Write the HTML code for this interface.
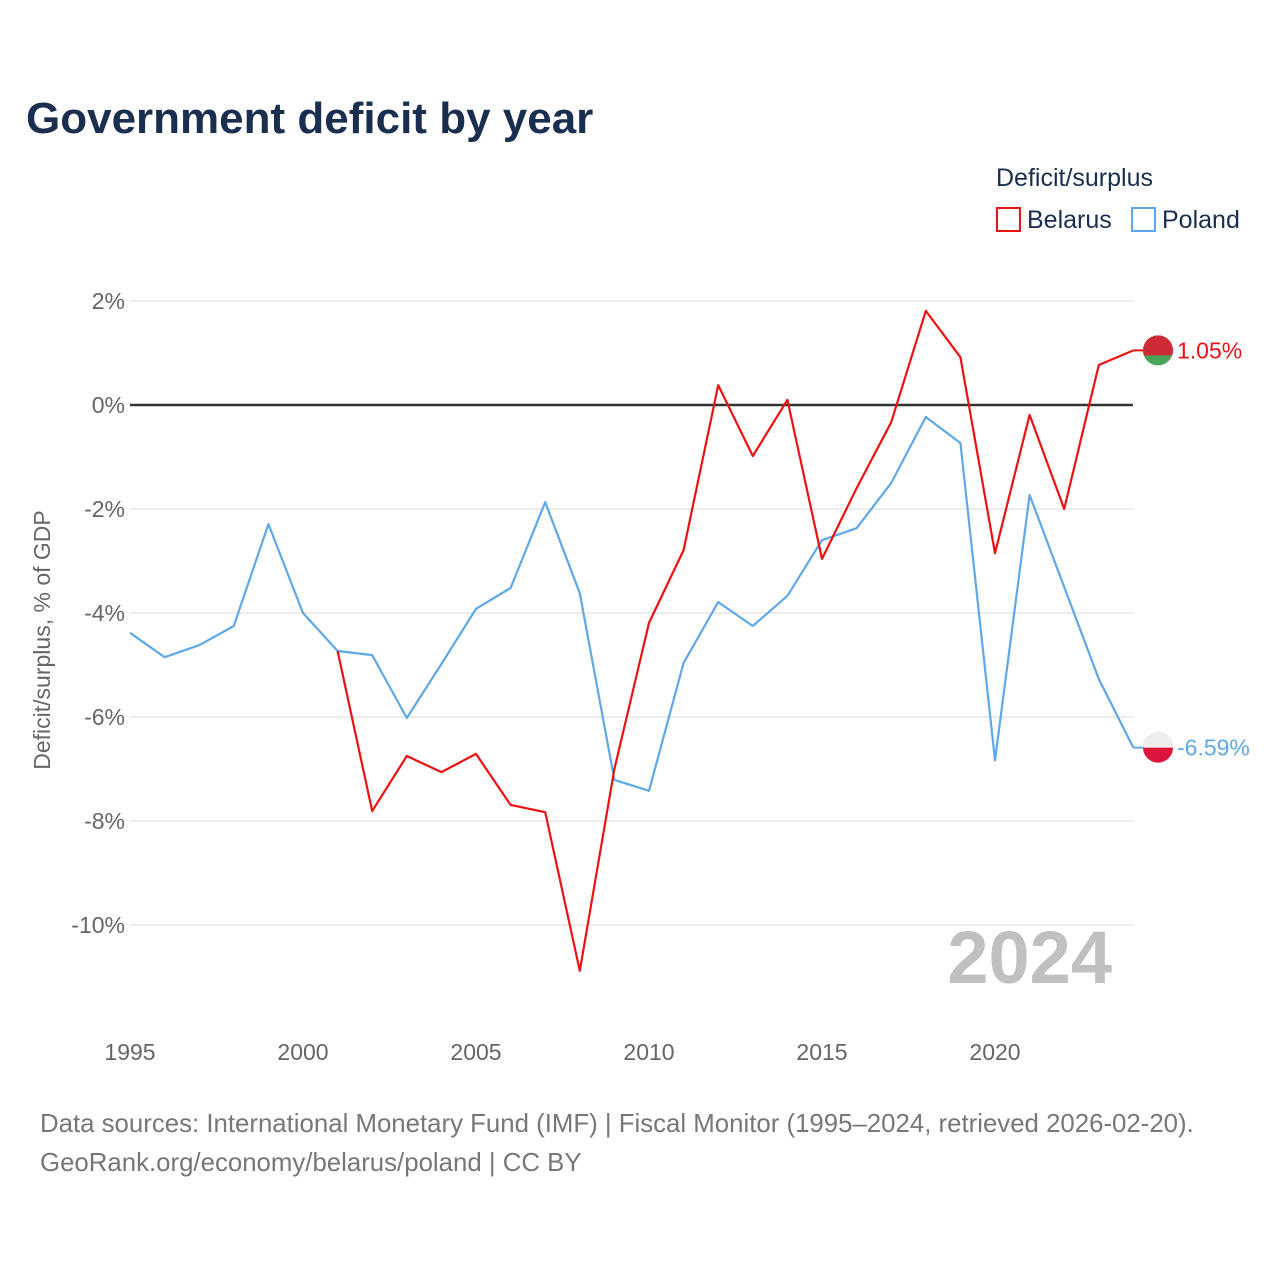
<!DOCTYPE html>
<html><head><meta charset="utf-8"><style>
body{margin:0;background:#fff;font-family:"Liberation Sans",sans-serif}
svg text{font-family:"Liberation Sans",sans-serif}
</style></head><body>
<svg id="chart" width="1280" height="1280" xmlns="http://www.w3.org/2000/svg">
<defs><clipPath id="c1"><circle cx="1158" cy="350" r="15"/></clipPath><clipPath id="c2"><circle cx="1158" cy="748" r="15"/></clipPath></defs>
<text x="26" y="133" font-size="44" font-weight="bold" fill="#1a2e4f">Government deficit by year</text>
<text x="996" y="186" font-size="25" fill="#1a2e4f">Deficit/surplus</text>
<g><rect x="997" y="208" width="23" height="23" fill="none" stroke="#ee1111" stroke-width="2"/><text x="1027" y="228" font-size="25" fill="#1a2e4f">Belarus</text></g>
<g><rect x="1132" y="208" width="23" height="23" fill="none" stroke="#5fa8e8" stroke-width="2"/><text x="1162" y="228" font-size="25" fill="#1a2e4f">Poland</text></g>
<text transform="translate(50,640) rotate(-90)" text-anchor="middle" font-size="23" fill="#666">Deficit/surplus, % of GDP</text>
<text x="1112" y="983" text-anchor="end" font-size="74" font-weight="bold" fill="#c0c0c0">2024</text>
<g id="grid"></g><g id="series"></g>
<text x="40" y="1132" font-size="25.8" fill="#777">Data sources: International Monetary Fund (IMF) | Fiscal Monitor (1995–2024, retrieved 2026-02-20).</text>
<text x="40" y="1171" font-size="25.8" fill="#777">GeoRank.org/economy/belarus/poland | CC BY</text>
</svg>
<script>
const years=[];for(let y=1995;y<=2024;y++)years.push(y);
const poland=[-4.38,-4.85,-4.62,-4.25,-2.29,-4.0,-4.73,-4.81,-6.02,-4.98,-3.92,-3.52,-1.87,-3.62,-7.21,-7.42,-4.96,-3.79,-4.25,-3.67,-2.6,-2.37,-1.5,-0.23,-0.73,-6.83,-1.73,-3.5,-5.27,-6.59];
const belarus=[null,null,null,null,null,null,-4.73,-7.81,-6.75,-7.06,-6.71,-7.69,-7.83,-10.88,-7.0,-4.19,-2.79,0.38,-0.98,0.1,-2.96,-1.6,-0.33,1.81,0.92,-2.85,-0.19,-2.0,0.77,1.05];
const yTicks=[2,0,-2,-4,-6,-8,-10];
const xTicks=[1995,2000,2005,2010,2015,2020];
const X=y=>130+(y-1995)*34.6, Y=v=>405-v*52;
const NS='http://www.w3.org/2000/svg';
const g=document.getElementById('grid'),s=document.getElementById('series');
function mk(tag,at,parent){const e=document.createElementNS(NS,tag);for(const k in at)e.setAttribute(k,at[k]);parent.appendChild(e);return e;}
yTicks.forEach(v=>{
 const l=mk('line',{x1:130,x2:1133,y1:Y(v),y2:Y(v),stroke:v===0?'#333':'#e6e6e6','stroke-width':v===0?2.5:1.5},g);
 
 
 const t=mk('text',{x:125,y:Y(v)+8,'text-anchor':'end','font-size':23,fill:'#666'},g);t.textContent=v+'%';
 
 
});
xTicks.forEach(v=>{
 const t=mk('text',{x:X(v),y:1060,'text-anchor':'middle','font-size':23,fill:'#666'},g);t.textContent=v;
 
 
});
function line(arr,color,name){
 const pts=[];arr.forEach((v,i)=>{if(v!==null)pts.push(X(years[i]).toFixed(1)+','+Y(v).toFixed(1));});
 const p=mk('polyline',{points:pts.join(' '),fill:'none',stroke:color,'stroke-width':2.2,'stroke-linejoin':'round'},s);
 
 
}
line(poland,'#5fa8e8','poland-line');
line(belarus,'#ee1111','belarus-line');
function endLabel(v,c1,c2,color,name,split,clip){
 const x=X(2024),y=Y(v);
 mk('line',{x1:x,x2:1150,y1:y,y2:y,stroke:color,'stroke-width':2},s);
 const gr=mk('g',{'clip-path':'url(#'+clip+')',transform:'translate(0,'+(y-(clip==='c1'?350:748))+')'},s);
 
 
 const cy=clip==='c1'?350:748;
 mk('rect',{x:1140,y:cy-16,width:36,height:32,fill:c2},gr);
 mk('rect',{x:1140,y:cy-16,width:36,height:16+split,fill:c1},gr);
 const t=mk('text',{x:1177,y:y+8,'font-size':23,fill:color},s);t.textContent=v.toFixed(2)+'%';
 
 
}
endLabel(belarus[29],'#cf2b37','#4aa657','#ee1111','belarus',5,'c1');
endLabel(poland[29],'#eeeeee','#dc143c','#5fa8e8','poland',0,'c2');
</script>
</body></html>
